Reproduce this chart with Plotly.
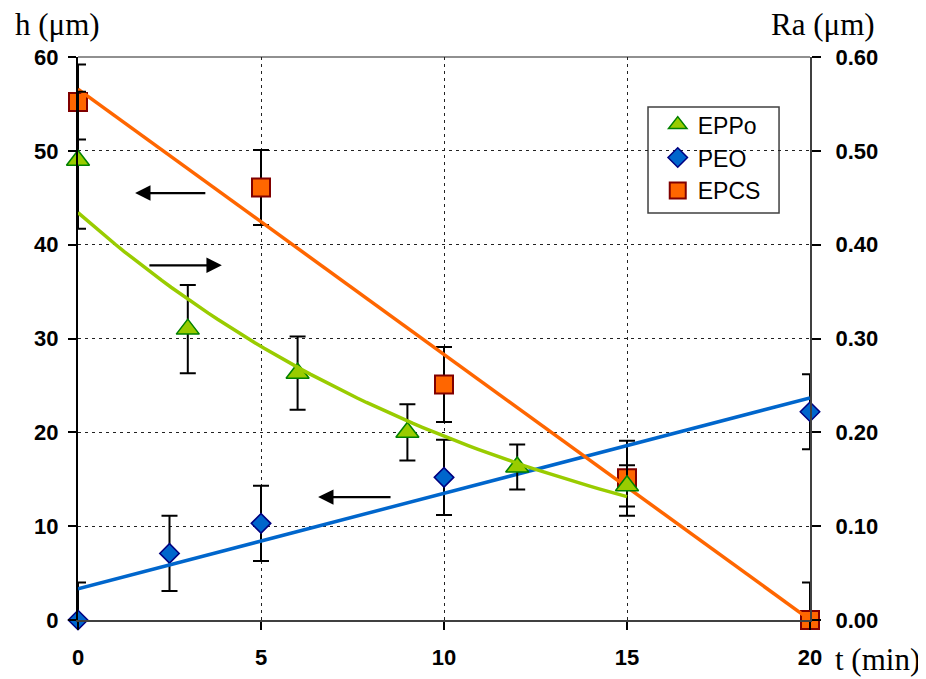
import numpy as np
import plotly.graph_objects as go

# ---- data ----
eppo_t = [0, 3, 6, 9, 12, 15]
eppo_ra = [0.49, 0.31, 0.263, 0.20, 0.163, 0.143]        # Ra (µm), right axis
eppo_err = [0.073, 0.047, 0.039, 0.030, 0.024, 0.022]

peo_t = [0, 2.5, 5, 10, 20]
peo_h = [0, 7.1, 10.3, 15.2, 22.2]                       # h (µm), left axis
peo_err = [4, 4, 4, 4, 4]

epcs_t = [0, 5, 10, 15, 20]
epcs_h = [55.2, 46.1, 25.1, 15.1, 0]                     # h (µm), left axis
epcs_err = [4, 4, 4, 4, 4]

x_ticks = [0, 5, 10, 15, 20]
h_ticks = [0, 10, 20, 30, 40, 50, 60]
ra_ticks = [0, 0.1, 0.2, 0.3, 0.4, 0.5, 0.6]

# arrows: (tail_x, head_x, y in h units)
arrows = [(3.52, 1.56, 45.5), (1.91, 3.93, 37.8), (8.58, 6.56, 13.1)]

# ---- trend lines (least-squares fits as in the spreadsheet) ----
pe = np.polyfit(peo_t, peo_h, 1)
pc = np.polyfit(epcs_t, epcs_h, 1)
pp = np.polyfit(eppo_t, np.log(eppo_ra), 1)
tl = np.linspace(0, 20, 50)
tp = np.linspace(0, 15, 60)

def minus(vals, errs, lo):
    return [min(e, v - lo) for v, e in zip(vals, errs)]

ORANGE = "#FF6600"
GREEN = "#99CC00"
BLUE = "#0066CC"

fig = go.Figure()

eb = dict(type="data", color="black", thickness=2, width=8)

fig.add_trace(go.Scatter(
    x=eppo_t, y=eppo_ra, mode="markers", name="EPPo", yaxis="y2",
    marker=dict(symbol="triangle-up", size=20, color=GREEN, line=dict(color="#008000", width=1.5)),
    error_y=dict(array=eppo_err, arrayminus=minus(eppo_ra, eppo_err, 0), symmetric=False, **eb),
    cliponaxis=False))
fig.add_trace(go.Scatter(
    x=tp, y=np.exp(np.polyval(pp, tp)), mode="lines", yaxis="y2", showlegend=False,
    line=dict(color=GREEN, width=3.5), hoverinfo="skip"))

fig.add_trace(go.Scatter(
    x=peo_t, y=peo_h, mode="markers", name="PEO",
    marker=dict(symbol="diamond", size=15, color=BLUE, line=dict(color="#000080", width=1.5)),
    error_y=dict(array=peo_err, arrayminus=minus(peo_h, peo_err, 0), symmetric=False, **eb),
    cliponaxis=False))
fig.add_trace(go.Scatter(
    x=epcs_t, y=epcs_h, mode="markers", name="EPCS",
    marker=dict(symbol="square", size=18, color=ORANGE, line=dict(color="#800000", width=2)),
    error_y=dict(array=epcs_err, arrayminus=minus(epcs_h, epcs_err, 0), symmetric=False, **eb),
    cliponaxis=False))
fig.add_trace(go.Scatter(
    x=tl, y=np.polyval(pe, tl), mode="lines", showlegend=False,
    line=dict(color=BLUE, width=3.5), hoverinfo="skip"))
fig.add_trace(go.Scatter(
    x=tl, y=np.polyval(pc, tl), mode="lines", showlegend=False,
    line=dict(color=ORANGE, width=3.5), hoverinfo="skip"))

tickfont = dict(family="Liberation Sans, Arial", size=22, color="black", weight="bold")
grid = dict(showgrid=True, gridcolor="#222222", gridwidth=1, griddash="3px,4px")

# the page body has an 8px margin, so the figure is 8px smaller than the window
fig.update_layout(
    width=918, height=671,
    margin=dict(l=70, r=116, t=49, b=59, autoexpand=False),
    paper_bgcolor="white", plot_bgcolor="white",
    xaxis=dict(range=[0, 20], tickvals=x_ticks, ticks="outside", ticklen=8, tickwidth=1.5,
               tickcolor="black", showline=True, linecolor="#404040", linewidth=2,
               zeroline=False, tickfont=tickfont, ticklabelstandoff=9, automargin=False, **grid),
    yaxis=dict(range=[0, 60], tickvals=h_ticks, ticks="outside", ticklen=8, tickwidth=1.5,
               tickcolor="black", showline=True, linecolor="black", linewidth=2,
               zeroline=False, tickfont=tickfont, ticklabelstandoff=5, automargin=False, **grid),
    yaxis2=dict(range=[0, 0.6], tickvals=ra_ticks, tickformat=".2f", overlaying="y", side="right",
                ticks="outside", ticklen=9, tickwidth=1.5, tickcolor="black",
                showline=True, linecolor="#404040", linewidth=2, showgrid=False, zeroline=False,
                tickfont=tickfont, ticklabelstandoff=10, automargin=False),
    legend=dict(x=0.792, y=0.918, xanchor="left", yanchor="top",
                borderwidth=0, bgcolor="rgba(0,0,0,0)",
                font=dict(family="Liberation Sans, Arial", size=23, color="black"),
                itemwidth=30, tracegroupgap=0),
    showlegend=True,
)

# legend frame and top border of the plot
fig.add_shape(type="rect", xref="paper", yref="paper", x0=0.7787, x1=0.9577, y0=0.7229, y1=0.9112,
              line=dict(color="#404040", width=1.5), fillcolor="white", layer="between")
fig.add_shape(type="line", xref="paper", yref="paper", x0=0, x1=1, y0=1, y1=1,
              line=dict(color="#909090", width=2), layer="between")

titlefont = dict(family="Liberation Serif, Times New Roman", size=31, color="black")
fig.add_annotation(text="h (μm)", xref="paper", yref="paper", x=-0.089, y=1.058,
                   xanchor="left", yanchor="middle", showarrow=False, font=titlefont)
fig.add_annotation(text="Ra (μm)", xref="paper", yref="paper", x=1.0915, y=1.058,
                   xanchor="right", yanchor="middle", showarrow=False, font=titlefont)
fig.add_annotation(text="t (min)", xref="paper", yref="paper", x=1.0314, y=-0.071,
                   xanchor="left", yanchor="middle", showarrow=False, font=titlefont)

for tail, head, yv in arrows:
    fig.add_annotation(x=head, y=yv, ax=tail, ay=yv, xref="x", yref="y", axref="x", ayref="y",
                       text="", showarrow=True, arrowhead=2, arrowsize=1.4, arrowwidth=2.2,
                       arrowcolor="black")

fig.write_html("out.html")
